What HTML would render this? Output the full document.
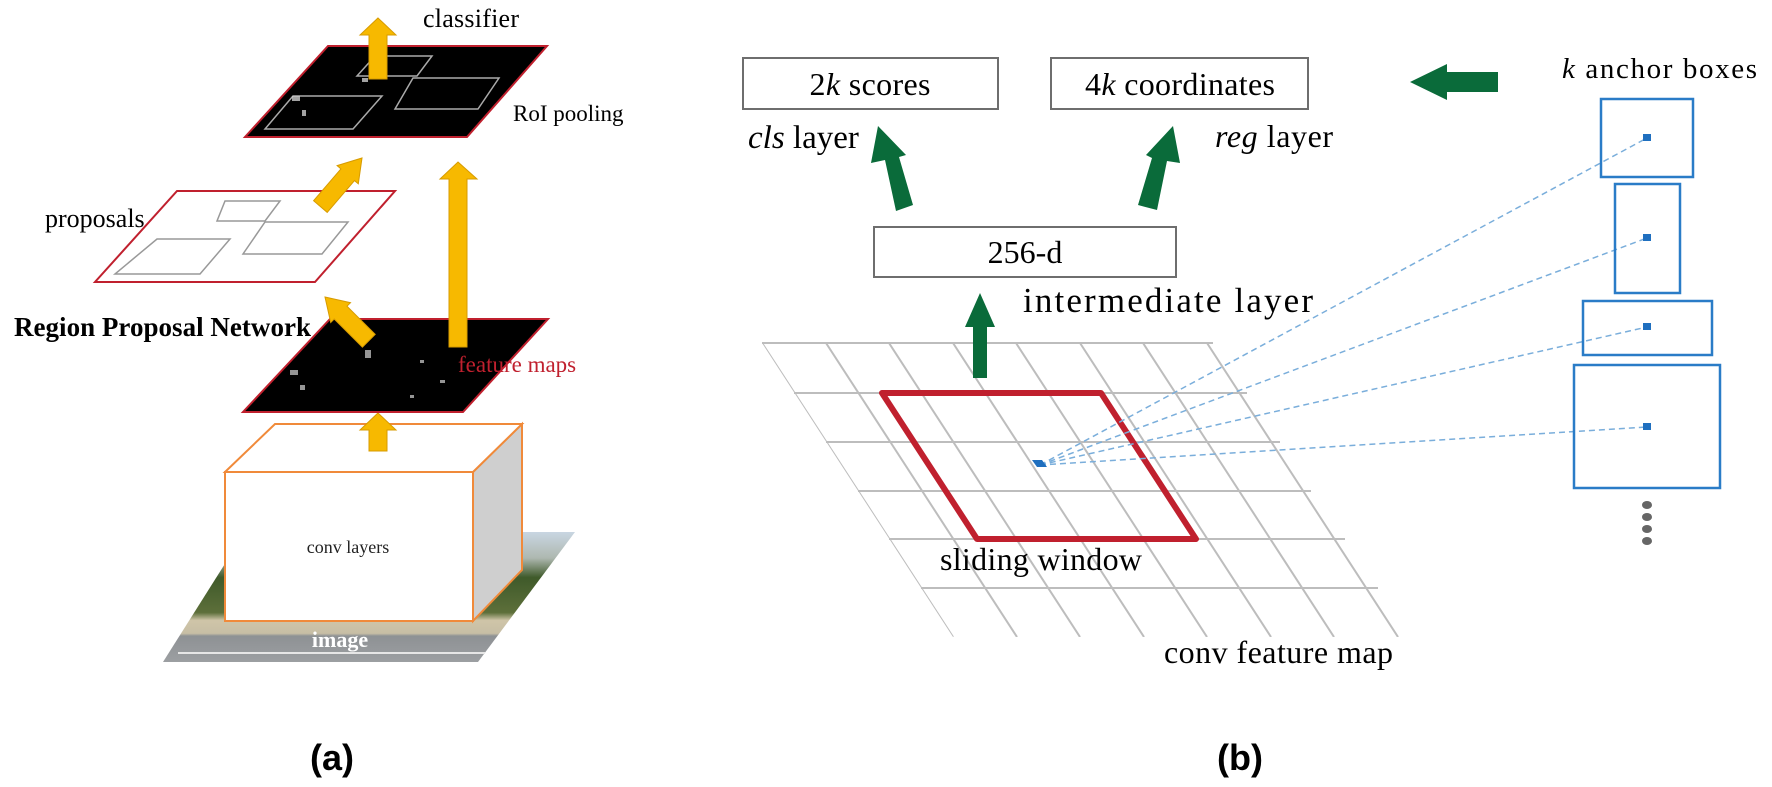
<!DOCTYPE html>
<html><head><meta charset="utf-8"><style>html,body{margin:0;padding:0;background:#fff}svg{display:block}</style></head>
<body>
<svg width="1772" height="787" viewBox="0 0 1772 787" xmlns="http://www.w3.org/2000/svg" font-family="Liberation Serif, serif">
<defs>
<clipPath id="gc"><polygon points="762,343 1213,343 1411,637 953,637"/></clipPath>
<linearGradient id="photo" x1="0" y1="0" x2="0" y2="1">
<stop offset="0" stop-color="#c9d6e2"/><stop offset="0.2" stop-color="#aeb8b0"/><stop offset="0.35" stop-color="#3f5a2a"/><stop offset="0.62" stop-color="#5d6f3a"/><stop offset="0.68" stop-color="#cfc5a8"/><stop offset="0.78" stop-color="#c7bea5"/><stop offset="0.8" stop-color="#8e9194"/><stop offset="1" stop-color="#9c9fa2"/>
</linearGradient>
</defs>

<!-- ===== (a) ===== -->
<polygon points="245,532 575,532 478,662 163,662" fill="url(#photo)"/>
<line x1="178" y1="653" x2="485" y2="653" stroke="#e6e6e6" stroke-width="2"/>
<text x="340" y="647" font-size="22" font-weight="bold" fill="#fff" text-anchor="middle">image</text>

<polygon points="473,472 522,424 522,570 473,621" fill="#cfcfcf" stroke="#f08a3a" stroke-width="2"/>
<polygon points="225,472 275,424 522,424 473,472" fill="#fff" stroke="#f08a3a" stroke-width="2"/>
<rect x="225" y="472" width="248" height="149" fill="#fff" stroke="#f08a3a" stroke-width="2"/>
<text x="348" y="553" font-size="18" text-anchor="middle" fill="#222">conv layers</text>
<polygon points="378,413 396,430 387,430 387,451 369,451 369,430 360,430" fill="#f7b900" stroke="#d79b00" stroke-width="1"/>

<polygon points="330,319 548,319 463,412 243,412" fill="#000" stroke="#c0202e" stroke-width="2"/>
<g fill="#bbb" opacity="0.8">
<rect x="290" y="370" width="8" height="5"/><rect x="300" y="385" width="5" height="5"/><rect x="365" y="350" width="6" height="8"/>
<rect x="420" y="360" width="4" height="3"/><rect x="440" y="380" width="5" height="3"/><rect x="410" y="395" width="4" height="3"/>
</g>
<polygon points="325,297 350.5,302.7 347,306.2 375.2,334.4 362.4,347.2 334.2,319 330.7,322.5" fill="#f7b900" stroke="#d79b00" stroke-width="1"/>
<polygon points="458,162 477,179 467,179 467,347 449,347 449,179 440,179" fill="#f7b900" stroke="#d79b00" stroke-width="1"/>

<polygon points="177,191 395,191 315,282 95,282" fill="#fff" stroke="#c0202e" stroke-width="2"/>
<g fill="none" stroke="#999" stroke-width="1.5">
<polygon points="225,201 280,201 265,221 217,221"/>
<polygon points="157,239 230,239 200,274 115,274"/>
<polygon points="265,222 348,222 322,254 243,254"/>
</g>
<polygon points="362,158 358.3,183.8 354.5,180.6 327.2,212.4 313.6,200.7 340.9,168.9 337.1,165.6" fill="#f7b900" stroke="#d79b00" stroke-width="1"/>

<polygon points="328,46 547,46 467,137 245,137" fill="#000" stroke="#c0202e" stroke-width="2"/>
<g fill="none" stroke="#aaa" stroke-width="1.5">
<polygon points="375,56 432,56 417,76 357,76"/>
<polygon points="293,96 382,96 353,129 265,129"/>
<polygon points="413,78 499,78 478,109 395,109"/>
</g>
<g fill="#ccc" opacity="0.8"><rect x="292" y="96" width="8" height="5"/><rect x="362" y="78" width="6" height="4"/><rect x="302" y="110" width="4" height="6"/></g>
<polygon points="378,18 396,35 387,35 387,79 369,79 369,35 360,35" fill="#f7b900" stroke="#d79b00" stroke-width="1"/>

<text x="423" y="27" font-size="26" textLength="96">classifier</text>
<text x="513" y="121" font-size="23">RoI pooling</text>
<text x="45" y="227" font-size="26">proposals</text>
<text x="14" y="336" font-size="27" font-weight="bold" textLength="297">Region Proposal Network</text>
<text x="458" y="372" font-size="23" fill="#c0202e">feature maps</text>
<text x="332" y="770" font-size="36" font-weight="bold" font-family="Liberation Sans, sans-serif" text-anchor="middle">(a)</text>

<!-- ===== (b) ===== -->
<g stroke="#bdbdbd" stroke-width="2">
<line x1="762" y1="343" x2="1213" y2="343"/>
<line x1="794" y1="393" x2="1247" y2="393"/>
<line x1="826" y1="442" x2="1280" y2="442"/>
<line x1="858" y1="491" x2="1311" y2="491"/>
<line x1="889" y1="539" x2="1345" y2="539"/>
<line x1="921" y1="588" x2="1378" y2="588"/>
<g clip-path="url(#gc)">
<line x1="762" y1="343" x2="953" y2="637"/>
<line x1="826" y1="343" x2="1017" y2="637"/>
<line x1="889" y1="343" x2="1080" y2="637"/>
<line x1="953" y1="343" x2="1144" y2="637"/>
<line x1="1016" y1="343" x2="1207" y2="637"/>
<line x1="1080" y1="343" x2="1271" y2="637"/>
<line x1="1143" y1="343" x2="1334" y2="637"/>
<line x1="1207" y1="343" x2="1398" y2="637"/>
</g>
</g>
<polygon points="882,393 1101,393 1196,539 977,539" fill="none" stroke="#c0202e" stroke-width="6" stroke-linejoin="round"/>

<g stroke="#7aaedb" stroke-width="1.5" stroke-dasharray="6,4" fill="none">
<line x1="1040" y1="465" x2="1647" y2="138"/>
<line x1="1040" y1="465" x2="1647" y2="238"/>
<line x1="1040" y1="465" x2="1647" y2="327"/>
<line x1="1040" y1="465" x2="1647" y2="427"/>
</g>
<polygon points="1032,460 1042,460 1047,467 1037,467" fill="#1f6fbf"/>

<g fill="#fff" stroke="#6e6e6e" stroke-width="2">
<rect x="743" y="58" width="255" height="51"/>
<rect x="1051" y="58" width="257" height="51"/>
<rect x="874" y="227" width="302" height="50"/>
</g>
<text x="870" y="95" font-size="32" text-anchor="middle" textLength="121">2<tspan font-style="italic">k</tspan> scores</text>
<text x="1180" y="95" font-size="32" text-anchor="middle" textLength="190">4<tspan font-style="italic">k</tspan> coordinates</text>
<text x="1025" y="263" font-size="32" text-anchor="middle">256-d</text>
<text x="748" y="148" font-size="33"><tspan font-style="italic">cls</tspan> layer</text>
<text x="1215" y="147" font-size="32" textLength="118"><tspan font-style="italic">reg</tspan> layer</text>
<text x="1023" y="312" font-size="35" textLength="290">intermediate layer</text>
<text x="940" y="570" font-size="32" textLength="202">sliding window</text>
<text x="1164" y="663" font-size="32" textLength="229">conv feature map</text>
<text x="1562" y="78" font-size="29" textLength="195"><tspan font-style="italic">k</tspan> anchor boxes</text>

<g fill="#0a6b3a">
<polygon points="878,126 906,155 899,157 913,205 896,211 885,160 871,163"/>
<polygon points="1173,126 1180,163 1167,161 1157,210 1138,205 1152,158 1146,155"/>
<polygon points="980,293 995,327 987,327 987,378 973,378 973,327 965,327"/>
<polygon points="1410,82 1447,64 1447,72 1498,72 1498,92 1447,92 1447,100"/>
</g>

<g fill="none" stroke="#2a7cc7" stroke-width="2.5">
<rect x="1601" y="99" width="92" height="78"/>
<rect x="1615" y="184" width="65" height="109"/>
<rect x="1583" y="301" width="129" height="54"/>
<rect x="1574" y="365" width="146" height="123"/>
</g>
<g fill="#1f6fbf">
<rect x="1643" y="134" width="8" height="7"/>
<rect x="1643" y="234" width="8" height="7"/>
<rect x="1643" y="323" width="8" height="7"/>
<rect x="1643" y="423" width="8" height="7"/>
</g>
<g fill="#666">
<ellipse cx="1647" cy="505" rx="5" ry="4"/><ellipse cx="1647" cy="517" rx="5" ry="4"/>
<ellipse cx="1647" cy="529" rx="5" ry="4"/><ellipse cx="1647" cy="541" rx="5" ry="4"/>
</g>

<text x="1240" y="770" font-size="36" font-weight="bold" font-family="Liberation Sans, sans-serif" text-anchor="middle">(b)</text>
</svg>
</body></html>
